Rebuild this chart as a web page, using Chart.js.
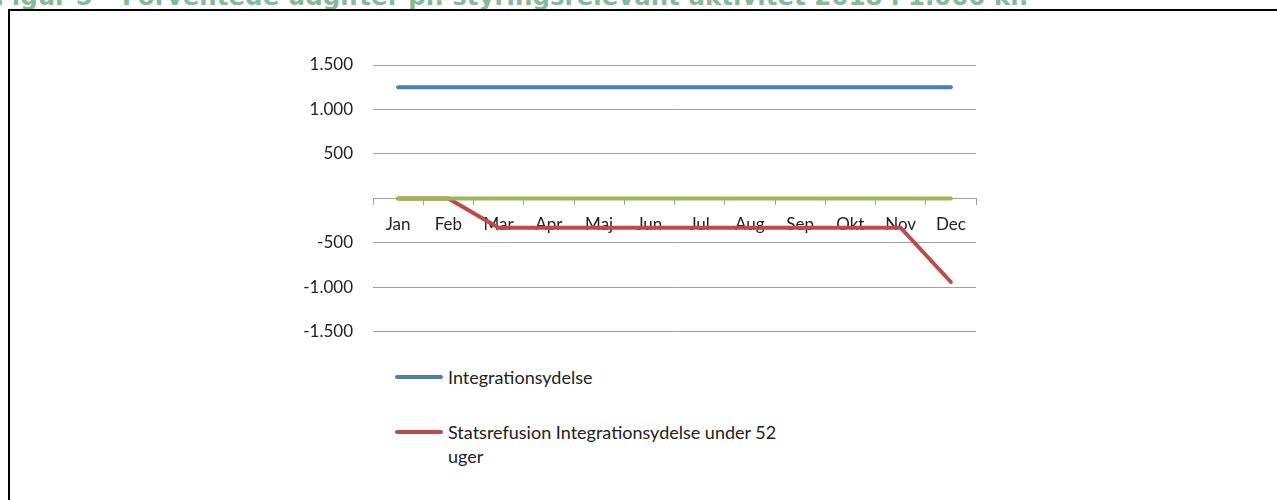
<!DOCTYPE html>
<html>
<head>
<meta charset="utf-8">
<script src="https://cdn.jsdelivr.net/npm/chart.js@4/dist/chart.umd.min.js"></script>
<style>
  body { margin: 0; width: 1277px; height: 500px; overflow: hidden; background: #fff; position: relative; }
  #title { position: absolute; left: -5px; top: -18px; font: bold 24.5px "DejaVu Sans", sans-serif; color: #86b89c; white-space: nowrap; line-height: 30px; }
  #frame { position: absolute; left: 8px; top: 9px; width: 1400px; height: 600px; border: 2px solid #000; }
  #chart { position: absolute; left: 0; top: 0; }
  #legend { position: absolute; left: 395px; top: 365px; font: 18px Lato, sans-serif; color: #222; }
  .item { display: flex; align-items: flex-start; margin-bottom: 31px; }
  .swatch { width: 48px; height: 4px; border-radius: 2px; margin-top: 10px; margin-right: 5px; flex: none; }
  .txt { width: 355px; line-height: 24px; }
</style>
</head>
<body>
<div id="title">Figur 5 – Forventede udgifter pr. styringsrelevant aktivitet 2018 i 1.000 kr.</div>
<div id="frame"></div>
<canvas id="chart" width="1277" height="362"></canvas>
<div id="legend"></div>
<script>
const months = ['Jan', 'Feb', 'Mar', 'Apr', 'Maj', 'Jun', 'Jul', 'Aug', 'Sep', 'Okt', 'Nov', 'Dec'];
const integrationsydelse = [1250, 1250, 1250, 1250, 1250, 1250, 1250, 1250, 1250, 1250, 1250, 1250];
const statsrefusion = [0, 0, -330, -330, -330, -330, -330, -330, -330, -330, -330, -940];
const serie3 = [0, 0, 0, 0, 0, 0, 0, 0, 0, 0, 0, 0];
const yTicks = { min: -1500, max: 1500, step: 500 };

const gridColor = '#a0a0a0';
const font = { family: 'Lato', size: 17 };

const datasets = [
    { label: 'Integrationsydelse', data: integrationsydelse, borderColor: '#4a7ebb', order: 2 },
    { label: 'Statsrefusion Integrationsydelse under 52 uger', data: statsrefusion, borderColor: '#be4b48', order: 1 },
    { label: '', data: serie3, borderColor: '#98b954', order: 0 },
].map(d => Object.assign(d, {
    borderWidth: 4,
    pointRadius: 0,
    tension: 0,
    borderCapStyle: 'round',
    borderJoinStyle: 'round',
    fill: false,
}));

function fmt(v) {
    if (v === 0) return '';
    return String(v).replace(/\B(?=(\d{3})+(?!\d))/g, '.');
}

new Chart('chart', {
    type: 'line',
    data: { labels: months, datasets: datasets },
    options: {
        responsive: false,
        animation: false,
        devicePixelRatio: 1,
        layout: { padding: { left: 0, right: 301, top: 65, bottom: 25 } },
        plugins: { legend: { display: false }, tooltip: { enabled: false } },
        scales: {
            x: {
                type: 'category',
                position: { y: 0 },
                offset: true,
                grid: { offset: true, drawOnChartArea: false, drawTicks: true, tickLength: 6, color: gridColor },
                border: { display: true, color: gridColor },
                ticks: { padding: 10, font: font, color: '#222', maxRotation: 0, autoSkip: false },
            },
            y: {
                min: yTicks.min,
                max: yTicks.max,
                afterFit: (scale) => { scale.width = 373; },
                grid: { color: gridColor, drawTicks: false },
                border: { display: false },
                ticks: { stepSize: yTicks.step, padding: 20, font: font, color: '#222', callback: fmt },
            },
        },
    },
});

// legend (only the first two entries fit in the picture)
const legend = document.getElementById('legend');
datasets.filter(d => d.label).forEach(d => {
    const item = document.createElement('div');
    item.className = 'item';
    item.innerHTML = '<div class="swatch" style="background:' + d.borderColor + '"></div><div class="txt">' + d.label + '</div>';
    legend.appendChild(item);
});
</script>
</body>
</html>
